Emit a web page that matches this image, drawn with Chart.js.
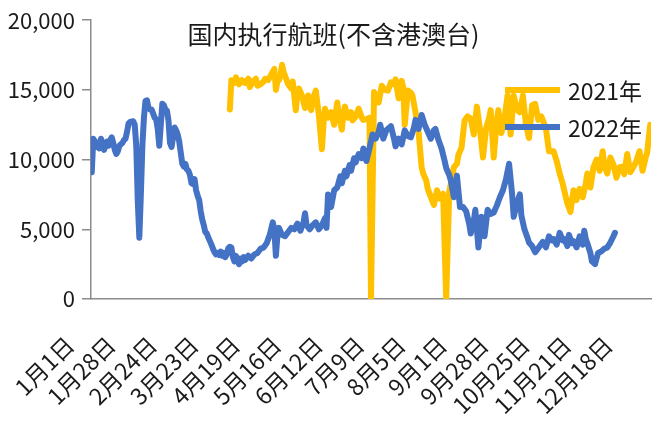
<!DOCTYPE html>
<html>
<head>
<meta charset="utf-8">
<script src="https://cdn.jsdelivr.net/npm/chart.js@4/dist/chart.umd.min.js"></script>
<style>
  html, body { margin: 0; padding: 0; background: #fff; }
  #wrap { width: 667px; height: 423px; }
</style>
</head>
<body>
<div id="wrap"><canvas id="flights" width="667" height="423"></canvas></div>
<script>
const chartTitle = "国内执行航班(不含港澳台)";
const seriesNames = ["2021年", "2022年"];

// x ticks: every 27th day of the year (0 = 1月1日)
const tickDays = [0, 27, 54, 81, 108, 135, 162, 189, 216, 243, 270, 297, 324, 351];
const tickLabels = ["1月1日", "1月28日", "2月24日", "3月23日", "4月19日", "5月16日", "6月12日",
  "7月9日", "8月5日", "9月1日", "9月28日", "10月25日", "11月21日", "12月18日"];

// 2022 daily flights (day of year, value)
const days2022 = [0,1,2,3,4,5,6,7,8,9,10,11,12,13,14,15,16,17,18,19,20,21,22,23,24,25,27,28,29,30,31,32,33,34,35,36,37,38,39,40,
  41,42,43,44,45,46,47,48,49,50,51,52,53,54,55,56,57,58,59,60,61,62,63,64,65,66,67,68,69,70,71,72,73,74,75,76,77,78,79,80,
  81,82,83,84,85,86,87,88,89,90,91,92,93,94,95,96,97,98,99,100,102,104,106,108,110,112,114,116,118,119,120,121,122,124,126,128,
  130,132,134,136,138,139,140,142,144,146,148,150,152,153,154,156,158,160,162,163,165,166,168,169,171,172,174,176,177,179,181,
  183,185,187,188,190,192,195,197,198,200,202,204,206,208,210,211,213,215,217,219,221,223,224,226,228,230,231,233,234,236,238,
  240,242,244,246,247,249,250,252,254,256,258,260,262,264,266,268,270,272,274,275,277,279,280,282,284,285,287,289,290,292,294,
  296,298,300,301,303,305,307,308,310,311,313,314,316,318,320,321,322,323,325,326,328,330,332,334,336,338,340,341];
const flights2022 = [9100,11500,11300,10900,11200,10800,11500,11200,10700,11000,11300,11000,11400,11600,11200,10700,10400,10600,11000,11100,
  11200,11400,11500,12000,12600,12700,12750,12500,11000,7000,4400,7500,11000,13000,14200,14250,13700,13600,13600,13300,
  13000,12900,12200,11000,12500,14000,13900,13600,13500,12800,11200,10900,11600,12300,12100,11800,11300,10500,9700,9500,
  9700,9300,9200,8900,8300,8250,8600,7800,7400,7100,6300,5700,5300,4800,4700,4400,4150,3900,3600,3350,
  3200,3300,3150,3400,3100,3300,3000,3200,3650,3750,3700,3000,2700,3100,2800,2500,2900,2700,3000,2800,3100,2900,3200,3300,3600,3700,4000,4600,5500,5000,3100,4500,5100,4600,4500,4800,
  5100,5000,5400,4900,5500,6150,5300,5000,5300,5500,5000,5300,5800,5100,7500,6600,7800,8000,8800,8300,9200,8800,9600,9200,10100,9800,10400,10100,10800,9900,10800,
  11800,11500,12000,12500,11500,12100,12400,11500,10950,11500,11100,12100,11700,11600,12300,12850,12200,13200,12500,12000,11500,12100,12200,11400,10800,9900,9400,8900,8500,7300,8850,
  6600,6600,6300,5400,4700,5600,6400,3700,5900,4500,6400,6100,6200,6700,7300,7800,8600,9700,7500,5900,6800,7500,6000,5000,4400,4050,3800,3350,3500,3800,4100,
  3700,4500,4200,4300,3900,4750,4200,4300,3800,4600,4000,4150,3700,4500,3900,4900,4300,4000,3300,2700,2500,3300,3400,3600,3700,4050,4500,4750];

// 2021 daily flights (from 4月1日); two missing days show as 0
const days2021 = [90,91,93,94,96,98,100,102,103,105,107,108,110,112,113,115,117,119,120,121,122,123,124,125,126,128,130,131,133,134,135,137,139,140,141,143,144,146,148,150,
  151,152,154,156,158,160,161,163,164,165,167,169,170,172,174,176,177,179,181,182,184,186,187,189,191,193,195,197,198,200,
  202,203,204,206,208,209,211,213,215,216,218,219,221,223,225,227,229,231,233,234,236,238,239,241,243,245,247,249,251,253,
  255,257,259,260,262,264,265,267,269,271,273,275,277,279,281,283,285,287,289,291,293,296,298,301,303,305,307,309,310,312,
  314,316,318,320,322,323,325,327,329,331,333,334,336,338,340,342,344,346,347,349,351,353,355,357,359,361,362,364];
const flights2021 = [13600,15700,15500,15900,15400,15700,15500,15800,15200,15600,15800,15300,15400,15600,15800,15700,16100,16500,15000,15600,15700,16000,16800,16300,16000,15400,15100,15600,13550,14800,15100,14600,13700,14200,14600,13550,14300,14950,13200,10750,
  12500,13650,13000,13400,12500,14100,13300,12150,13200,13800,13000,13400,12800,13100,13650,13000,12850,12900,13000,0,14850,14300,14100,15300,15000,14950,15550,15400,15750,14400,
  15650,15200,12500,14950,14800,14600,13400,12000,9450,9000,8500,7900,7300,6750,7800,7200,7550,0,7700,8250,9450,9700,10350,10850,12800,13100,12950,11800,13800,12200,
  10150,12250,13000,13550,10150,12800,13550,11900,12900,14600,11800,14600,13600,13400,14600,12500,11550,13900,14000,12850,13100,12250,10600,10600,9900,9000,8250,7300,6850,6250,
  7800,7100,7900,7300,8300,9000,8000,9450,10000,9200,10600,9600,9000,10150,9650,8700,9450,9500,8950,10400,9100,9450,9900,10600,9200,10150,10500,12500];

const yTicks = [0, 5000, 10000, 15000, 20000];
const colors = { y2021: "#FFC000", y2022: "#4472C4", axis: "#8c8c8c", text: "#1a1a1a" };
const fontFamily = "'Noto Sans CJK SC', 'Noto Sans', sans-serif";

function toPoints(days, values) {
  return days.map((d, i) => ({ x: d, y: values[i] }));
}

// title + legend sit inside the plot like the original
const overlayPlugin = {
  id: "overlay",
  afterDraw(chart) {
    const ctx = chart.ctx;
    const area = chart.chartArea;
    ctx.save();
    ctx.fillStyle = colors.text;
    ctx.textBaseline = "middle";
    ctx.textAlign = "center";
    ctx.font = "25px " + fontFamily;
    ctx.fillText(chartTitle, chart.width / 2, 34);

    const lx = area.right - 146;
    const rows = [{ name: seriesNames[0], color: colors.y2021, y: 90 }, { name: seriesNames[1], color: colors.y2022, y: 127 }];
    ctx.font = "23px " + fontFamily;
    ctx.textAlign = "left";
    rows.forEach((r) => {
      ctx.strokeStyle = r.color;
      ctx.lineWidth = 6;
      ctx.lineCap = "butt";
      ctx.beginPath();
      ctx.moveTo(lx, r.y);
      ctx.lineTo(lx + 55, r.y);
      ctx.stroke();
      ctx.fillText(r.name, lx + 63, r.y + 1);
    });
    ctx.restore();
  },
};

new Chart(document.getElementById("flights"), {
  type: "line",
  data: {
    datasets: [
      {
        label: seriesNames[1],
        data: toPoints(days2022, flights2022),
        borderColor: colors.y2022,
        backgroundColor: colors.y2022,
        borderWidth: 6,
        order: 0,
      },
      {
        label: seriesNames[0],
        data: toPoints(days2021, flights2021),
        borderColor: colors.y2021,
        backgroundColor: colors.y2021,
        borderWidth: 6,
        order: 1,
      },
    ],
  },
  options: {
    responsive: false,
    animation: false,
    locale: "en-US",
    layout: { padding: { top: 15, right: 16, left: 0, bottom: 0 } },
    elements: {
      point: { radius: 0 },
      line: { tension: 0, borderJoinStyle: "round", borderCapStyle: "round" },
    },
    plugins: {
      legend: { display: false },
      tooltip: { enabled: false },
    },
    scales: {
      x: {
        type: "linear",
        min: -0.5,
        max: 364.5,
        afterBuildTicks: (axis) => {
          axis.ticks = tickDays.map((d) => ({ value: d }));
        },
        afterFit: (axis) => {
          axis.height = 124;
          axis.paddingLeft = 0;
          axis.paddingRight = 0;
        },
        grid: { display: false, drawTicks: false },
        border: { display: true, color: colors.axis, width: 1.5 },
        ticks: {
          autoSkip: false,
          minRotation: 45,
          maxRotation: 45,
          padding: 32,
          labelOffset: -22,
          color: colors.text,
          font: { family: fontFamily, size: 23 },
          callback: (value) => tickLabels[tickDays.indexOf(value)],
        },
      },
      y: {
        min: 0,
        max: 20000,
        afterBuildTicks: (axis) => {
          axis.ticks = yTicks.map((v) => ({ value: v }));
        },
        afterFit: (axis) => {
          axis.width = 91;
        },
        grid: { display: true, drawOnChartArea: false, drawTicks: true, tickLength: 9, color: colors.axis, lineWidth: 1.5 },
        border: { display: true, color: colors.axis, width: 1.5 },
        ticks: {
          padding: 7,
          color: colors.text,
          font: { family: fontFamily, size: 22 },
        },
      },
    },
  },
  plugins: [overlayPlugin],
});
</script>
</body>
</html>
